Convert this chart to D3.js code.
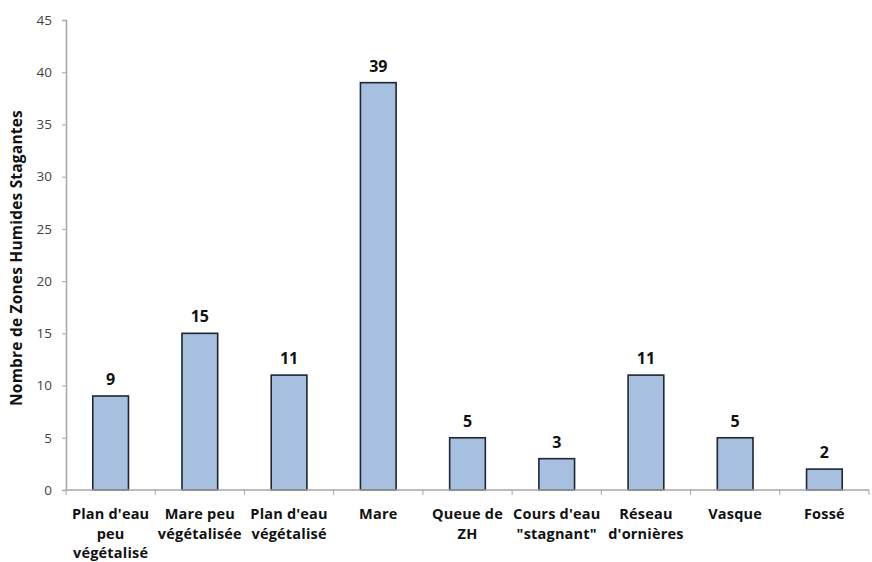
<!DOCTYPE html>
<html>
<head>
<meta charset="utf-8">
<script src="https://cdn.jsdelivr.net/npm/d3@7"></script>
<style>
  html, body { margin: 0; padding: 0; background: #fff; }
  svg { display: block; }
  text { font-family: "Open Sans", "Noto Sans", sans-serif; }
</style>
</head>
<body>
<svg id="chart" width="872" height="562"></svg>
<script>
// Types de zones humides stagnantes et effectifs
const categories = [
  ["Plan d'eau", "peu", "végétalisé"],
  ["Mare peu", "végétalisée"],
  ["Plan d'eau", "végétalisé"],
  ["Mare"],
  ["Queue de", "ZH"],
  ["Cours d'eau", "\"stagnant\""],
  ["Réseau", "d'ornières"],
  ["Vasque"],
  ["Fossé"]
];
const values = [9, 15, 11, 39, 5, 3, 11, 5, 2];
const yTicks = [0, 5, 10, 15, 20, 25, 30, 35, 40, 45];
const yTitle = "Nombre de Zones Humides Stagantes";

const svg = d3.select("#chart");
const margin = { left: 66, right: 3, top: 20, bottom: 72 };
const W = 872, H = 562;
const plotW = W - margin.left - margin.right;
const plotH = H - margin.top - margin.bottom;

const keys = categories.map((c, i) => i);
const x = d3.scaleBand().domain(keys).range([0, plotW]).paddingInner(0).paddingOuter(0);
const y = d3.scaleLinear().domain([0, 45]).range([plotH, 0]);

const g = svg.append("g").attr("transform", `translate(${margin.left},${margin.top})`);

const axisColor = "#a6a6a6";

// Barres
const barW = x.bandwidth() * 0.40;
g.selectAll("rect.bar")
  .data(values)
  .join("rect")
  .attr("class", "bar")
  .attr("x", (d, i) => x(i) + (x.bandwidth() - barW) / 2)
  .attr("y", d => y(d))
  .attr("width", barW)
  .attr("height", d => y(0) - y(d))
  .attr("fill", "#a7c0df")
  .attr("stroke", "#1e2633")
  .attr("stroke-width", 1.6);

// Étiquettes de valeur
g.selectAll("text.val")
  .data(values)
  .join("text")
  .attr("class", "val")
  .attr("x", (d, i) => x(i) + x.bandwidth() / 2)
  .attr("y", d => y(d) - 11)
  .attr("text-anchor", "middle")
  .attr("font-size", 16)
  .attr("font-weight", "bold")
  .attr("fill", "#111")
  .text(d => d);

// Axe Y
const yAxis = d3.axisLeft(y).tickValues(yTicks).tickSize(4).tickPadding(10);
const yG = g.append("g").call(yAxis);
yG.select(".domain").attr("stroke", axisColor).attr("stroke-width", 1.5);
yG.selectAll(".tick line").attr("stroke", axisColor);
yG.selectAll(".tick text")
  .attr("font-size", 13.5)
  .attr("fill", "#444")
  .style("font-family", "\"Open Sans\", sans-serif");

// Axe X
const xAxisG = g.append("g").attr("transform", `translate(0,${plotH})`);
xAxisG.append("line")
  .attr("x1", 0).attr("x2", plotW)
  .attr("y1", 0).attr("y2", 0)
  .attr("stroke", axisColor).attr("stroke-width", 1.5);
xAxisG.selectAll("line.tk")
  .data(d3.range(categories.length + 1))
  .join("line")
  .attr("class", "tk")
  .attr("x1", i => i * x.bandwidth())
  .attr("x2", i => i * x.bandwidth())
  .attr("y1", 0).attr("y2", 5)
  .attr("stroke", axisColor);

// Libellés des catégories
const labels = xAxisG.selectAll("text.cat")
  .data(categories)
  .join("text")
  .attr("class", "cat")
  .attr("text-anchor", "middle")
  .attr("font-size", 14.5)
  .attr("font-weight", "bold")
  .attr("letter-spacing", 0.2)
  .attr("fill", "#111")
  .attr("transform", (d, i) => `translate(${x(i) + x.bandwidth() / 2},29)`);
labels.selectAll("tspan")
  .data(d => d)
  .join("tspan")
  .attr("x", 0)
  .attr("y", (d, j) => j * 19.5)
  .text(d => d);

// Titre de l'axe Y
svg.append("text")
  .attr("transform", `translate(22,${margin.top + plotH / 2 + 3}) rotate(-90)`)
  .attr("text-anchor", "middle")
  .attr("font-size", 15.5)
  .attr("font-weight", "bold")
  .attr("letter-spacing", 0.2)
  .attr("fill", "#111")
  .text(yTitle);
</script>
</body>
</html>
